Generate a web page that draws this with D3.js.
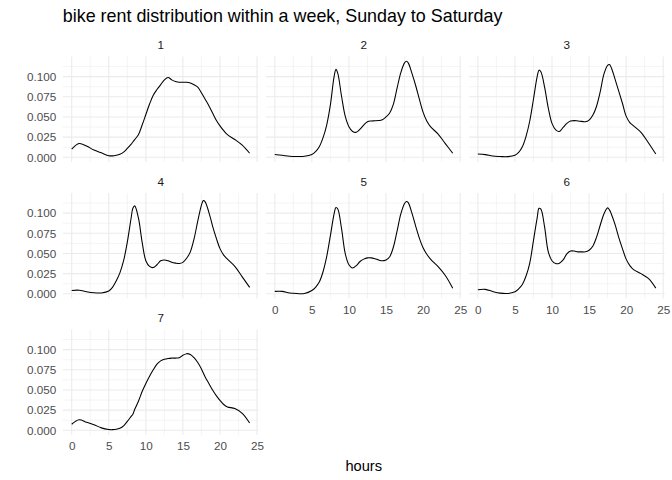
<!DOCTYPE html>
<html>
<head>
<meta charset="utf-8">
<script src="https://cdn.jsdelivr.net/npm/d3@7"></script>
<style>
  html, body { margin: 0; padding: 0; background: #fff; }
  svg { display: block; font-family: "Liberation Sans", Arial, sans-serif; }
</style>
</head>
<body>
<svg id="chart" width="672" height="480"></svg>
<script>
// ---- data ----
const title = "bike rent distribution within a week, Sunday to Saturday";
const xTitle = "hours";
const dayLabels = ["1", "2", "3", "4", "5", "6", "7"];
const hours = [0,1,2,3,4,5,5.5,6,6.5,7,7.5,8,8.25,8.5,9,9.5,10,10.5,11,11.5,12,12.5,13,13.5,14,14.5,15,15.5,16,16.5,17,17.5,17.75,18,18.5,19,19.5,20,20.5,21,22,23,24];

const day1 = [0.010,0.017,0.014,0.009,0.0055,0.002,0.0018,0.0025,0.0038,0.0065,0.011,0.016,0.019,0.022,0.028,0.040,0.053,0.066,0.077,0.084,0.090,0.096,0.099,0.096,0.094,0.093,0.093,0.093,0.092,0.090,0.087,0.080,0.076,0.072,0.064,0.055,0.046,0.039,0.033,0.028,0.022,0.015,0.005];
const day2 = [0.0035,0.0025,0.0013,0.001,0.0012,0.0035,0.007,0.013,0.024,0.040,0.065,0.100,0.109,0.104,0.076,0.051,0.038,0.032,0.031,0.035,0.040,0.044,0.045,0.0452,0.0455,0.0465,0.050,0.055,0.066,0.086,0.105,0.117,0.119,0.117,0.104,0.089,0.072,0.056,0.045,0.038,0.029,0.017,0.005];
const day3 = [0.004,0.0033,0.0015,0.001,0.0008,0.0025,0.006,0.013,0.026,0.045,0.072,0.100,0.108,0.106,0.087,0.061,0.042,0.034,0.032,0.037,0.042,0.045,0.0455,0.045,0.0445,0.044,0.046,0.052,0.063,0.081,0.103,0.114,0.115,0.111,0.097,0.082,0.067,0.051,0.043,0.039,0.031,0.018,0.004];
const day4 = [0.004,0.0045,0.0025,0.0012,0.0011,0.0035,0.008,0.016,0.026,0.041,0.064,0.093,0.106,0.109,0.094,0.064,0.041,0.034,0.0325,0.036,0.041,0.042,0.041,0.039,0.038,0.0375,0.039,0.044,0.052,0.068,0.090,0.110,0.1155,0.114,0.101,0.084,0.069,0.056,0.048,0.043,0.034,0.021,0.008];
const day5 = [0.003,0.003,0.001,0.0003,0.0003,0.004,0.008,0.0145,0.027,0.046,0.072,0.099,0.107,0.105,0.081,0.050,0.036,0.032,0.035,0.040,0.043,0.0445,0.0445,0.0435,0.042,0.041,0.042,0.046,0.058,0.078,0.099,0.112,0.1145,0.113,0.100,0.084,0.069,0.057,0.049,0.043,0.034,0.0227,0.007];
const day6 = [0.005,0.0055,0.0028,0.0008,0.0004,0.0025,0.006,0.0115,0.022,0.038,0.066,0.094,0.106,0.105,0.083,0.052,0.041,0.0375,0.038,0.042,0.0496,0.053,0.053,0.052,0.052,0.052,0.054,0.059,0.070,0.085,0.099,0.1065,0.104,0.099,0.086,0.070,0.056,0.043,0.035,0.030,0.025,0.019,0.007];
const day7 = [0.0075,0.013,0.010,0.007,0.003,0.001,0.0008,0.0012,0.0025,0.0055,0.011,0.017,0.020,0.026,0.036,0.048,0.058,0.067,0.075,0.082,0.086,0.088,0.089,0.0895,0.0895,0.090,0.093,0.095,0.094,0.090,0.084,0.076,0.071,0.066,0.058,0.050,0.043,0.037,0.032,0.029,0.027,0.021,0.009];

const xTicks = [0, 5, 10, 15, 20, 25];
const xMinor = [2.5, 7.5, 12.5, 17.5, 22.5];
const yTicks = [0, 0.025, 0.05, 0.075, 0.1];
const yMinor = [0.0125, 0.0375, 0.0625, 0.0875, 0.1125];

// ---- build facets ----
const series = [day1, day2, day3, day4, day5, day6, day7];
const facets = dayLabels.map((lab, i) => ({
  label: lab,
  points: hours.map((h, j) => ({ x: h, y: series[i][j] }))
}));

// ---- layout ----
const svg = d3.select("#chart");
const ncol = 3;
const plotLeft = 62.8, plotRight = 664.7;
const gapX = 7.33;
const panelW = (plotRight - plotLeft - 2 * gapX) / 3;
const firstTop = 56.5;
const panelH = 105.6;
const rowStep = 136.5;
const stripH = 23.5;

const xExt = d3.extent(hours);
const xPad = (xExt[1] - xExt[0]) * 0.05;
const x = d3.scaleLinear().domain([xExt[0] - xPad, xExt[1] + xPad]).range([0, panelW]);
const yMax = d3.max(series, s => d3.max(s));
const yPad = yMax * 0.05;
const y = d3.scaleLinear().domain([-yPad, yMax + yPad]).range([panelH, 0]);

const gridCol = "#EBEBEB";
const axisCol = "#4D4D4D";

// title
svg.append("text")
  .attr("x", plotLeft).attr("y", 22.2)
  .attr("font-size", 17.9).attr("fill", "#000")
  .text(title);

const nPanels = facets.length;

facets.forEach((f, i) => {
  const col = i % ncol, row = Math.floor(i / ncol);
  const px = plotLeft + col * (panelW + gapX);
  const py = firstTop + row * rowStep;
  const g = svg.append("g").attr("transform", `translate(${px},${py})`);

  // strip
  g.append("text")
    .attr("x", panelW / 2).attr("y", -stripH / 2)
    .attr("dy", "0.4em")
    .attr("text-anchor", "middle")
    .attr("font-size", 11.7).attr("fill", "#1A1A1A")
    .text(f.label);

  // minor grid
  g.selectAll(".xmin").data(xMinor).enter().append("line")
    .attr("x1", d => x(d)).attr("x2", d => x(d))
    .attr("y1", 0).attr("y2", panelH)
    .attr("stroke", gridCol).attr("stroke-width", 0.53);
  g.selectAll(".ymin").data(yMinor.filter(v => v <= y.domain()[1])).enter().append("line")
    .attr("x1", 0).attr("x2", panelW)
    .attr("y1", d => y(d)).attr("y2", d => y(d))
    .attr("stroke", gridCol).attr("stroke-width", 0.53);
  // major grid
  g.selectAll(".xmaj").data(xTicks).enter().append("line")
    .attr("x1", d => x(d)).attr("x2", d => x(d))
    .attr("y1", 0).attr("y2", panelH)
    .attr("stroke", gridCol).attr("stroke-width", 1.07);
  g.selectAll(".ymaj").data(yTicks).enter().append("line")
    .attr("x1", 0).attr("x2", panelW)
    .attr("y1", d => y(d)).attr("y2", d => y(d))
    .attr("stroke", gridCol).attr("stroke-width", 1.07);

  // density line
  const line = d3.line().x(d => x(d.x)).y(d => y(d.y)).curve(d3.curveCatmullRom.alpha(0.5));
  g.append("path")
    .datum(f.points)
    .attr("d", line)
    .attr("fill", "none")
    .attr("stroke", "#000")
    .attr("stroke-width", 1.07);

  // y axis labels on first column
  if (col === 0) {
    const ya = d3.axisLeft(y).tickValues(yTicks).tickFormat(d3.format(".3f")).tickSize(0).tickPadding(6.6);
    const ag = g.append("g").call(ya);
    ag.select(".domain").remove();
    ag.selectAll("text").attr("font-size", 11.7).attr("fill", axisCol)
      .attr("font-family", "Liberation Sans, Arial, sans-serif");
  }
  // x axis labels if no panel below
  if (i + ncol >= nPanels) {
    const xa = d3.axisBottom(x).tickValues(xTicks).tickFormat(d3.format("d")).tickSize(0).tickPadding(6.6);
    const ag = g.append("g").attr("transform", `translate(0,${panelH})`).call(xa);
    ag.select(".domain").remove();
    ag.selectAll("text").attr("font-size", 11.7).attr("fill", axisCol)
      .attr("font-family", "Liberation Sans, Arial, sans-serif");
  }
});

// x axis title
svg.append("text")
  .attr("x", (plotLeft + plotRight) / 2).attr("y", 471)
  .attr("text-anchor", "middle")
  .attr("font-size", 14.67).attr("fill", "#000")
  .text(xTitle);
</script>
</body>
</html>
